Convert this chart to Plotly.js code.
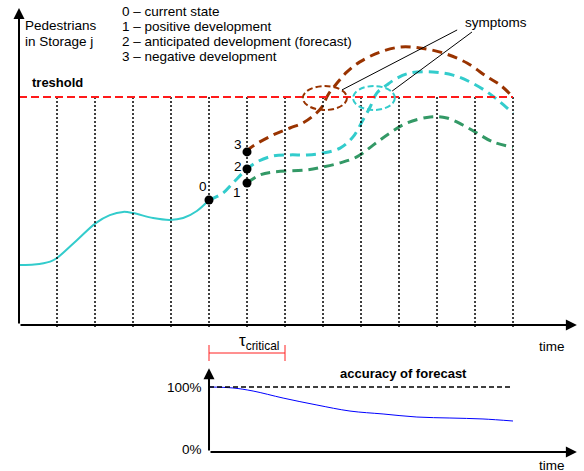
<!DOCTYPE html>
<html>
<head>
<meta charset="utf-8">
<script src="https://cdn.plot.ly/plotly-3.0.1.min.js"></script>
<style>html,body{margin:0;padding:0;background:#fff;}#chart{width:584px;height:471px;}</style>
</head>
<body>
<div id="chart"></div>
<script>
// ---- data (time in intervals, level where threshold = 100) ----
const historyT = [0, 0.4, 0.82, 1, 1.53, 2.02, 2.39, 2.74, 3, 3.53, 3.97, 4.32, 4.68, 5];
const historyL = [26.3, 26.5, 27.8, 29.4, 37.3, 44.7, 48.2, 49.6, 49.1, 46.9, 46.1, 46.9, 50, 54.8];

const forecastT = [5, 5.37, 5.63, 6, 6.26, 6.68, 7.13, 7.58, 8, 8.45, 8.79, 9.05, 9.24, 9.42, 9.68, 9.95, 10.29, 10.89, 11.42, 11.87, 12.32, 12.66, 13];
const forecastL = [54.8, 57.9, 62.3, 68.4, 71.5, 74.1, 74.6, 74.6, 75.4, 77.6, 82.5, 89.9, 95.6, 101.8, 105.3, 108.3, 110.5, 111, 109.6, 106.6, 102.2, 97.8, 92.9];

const negativeT = [6, 6.08, 6.68, 7.13, 7.47, 7.74, 7.97, 8.13, 8.37, 8.63, 8.97, 9.5, 10.03, 10.55, 11.16, 11.79, 12.32, 12.66, 13];
const negativeL = [75.9, 77.6, 83.3, 86.4, 88.6, 91.7, 95.6, 100.9, 106.1, 111, 115.4, 119.7, 121.9, 121.5, 119.3, 114.9, 108.8, 105.3, 100];

const positiveT = [6, 6.34, 6.68, 7.58, 8, 8.45, 8.89, 9.32, 9.76, 10.21, 10.82, 11.26, 11.68, 12.05, 12.47, 13];
const positiveL = [62.3, 65.8, 67.1, 68, 69.3, 71.1, 73.7, 78.9, 84.2, 88.6, 91.2, 90.8, 87.7, 84.2, 80.3, 78];

const stateT = [5, 6, 6, 6];
const stateL = [54.8, 62.3, 68.4, 75.9];
const stateLabels = ['0', '1', '2', '3'];

const threshold = 100;
const gridT = [1, 2, 3, 4, 5, 6, 7, 8, 9, 10, 11, 12, 13];

const accuracyT = [5, 5.63, 6.16, 6.95, 7.84, 8.71, 9.58, 10.47, 11.34, 12.21, 13];
const accuracyV = [100, 98.5, 93.8, 83, 72.3, 63, 58.5, 53.8, 52.3, 50.8, 47.7];

const legendLines = ['0 – current state', '1 – positive development', '2 – anticipated development (forecast)', '3 – negative development'];
const tauStart = 5, tauEnd = 7;

// ---- helpers ----
const W = 584, H = 471;
const P = (px, py) => ({x: px / W, y: 1 - py / H});
const FONT = 'Liberation Sans, Arial, sans-serif';
const BROWN = '#993300', CYAN = '#33cccc', GREEN = '#339966';
const FS = 13.5, FB = 13;

const traces = [
  {x: historyT, y: historyL, mode: 'lines', line: {color: CYAN, width: 2, shape: 'spline'}},
  {x: forecastT, y: forecastL, mode: 'lines', line: {color: CYAN, width: 3, dash: '10px,6px', shape: 'spline'}},
  {x: negativeT, y: negativeL, mode: 'lines', line: {color: BROWN, width: 3, dash: '10px,6px', shape: 'spline'}},
  {x: positiveT, y: positiveL, mode: 'lines', line: {color: GREEN, width: 3, dash: '10px,6px', shape: 'spline'}},
  {x: stateT, y: stateL, mode: 'markers', marker: {color: '#000', size: 9}},
  {x: accuracyT, y: accuracyV, yaxis: 'y2', mode: 'lines', line: {color: '#0000ff', width: 1, shape: 'spline'}}
];

const shapes = [];
gridT.forEach(t => shapes.push({type: 'line', xref: 'x', yref: 'y', x0: t, x1: t, y0: threshold, y1: -1,
  line: {color: '#000', width: 1.5, dash: '2px,2px'}}));
shapes.push({type: 'line', xref: 'x', yref: 'y', x0: 0, x1: 13, y0: threshold, y1: threshold,
  line: {color: '#ff1a1a', width: 2, dash: '8px,4px'}});
// symptom ellipses
shapes.push({type: 'circle', xref: 'x', yref: 'y', x0: 7.47, x1: 8.63, y0: 94.3, y1: 104.8,
  line: {color: BROWN, width: 2, dash: '6px,3px'}});
shapes.push({type: 'circle', xref: 'x', yref: 'y', x0: 8.79, x1: 9.89, y0: 94.3, y1: 104.8,
  line: {color: CYAN, width: 2, dash: '6px,3px'}});
// symptom pointer lines
shapes.push({type: 'line', xref: 'x', yref: 'y', x0: 8.5, y0: 103.1, x1: 11.53, y1: 129.4, line: {color: '#000', width: 1}});
shapes.push({type: 'line', xref: 'x', yref: 'y', x0: 9.82, y0: 102.6, x1: 11.92, y1: 128.5, line: {color: '#000', width: 1}});
// tau critical bracket
const by = P(0, 353).y, bt = P(0, 345).y, bb = P(0, 361).y;
shapes.push({type: 'line', xref: 'x', yref: 'paper', x0: tauStart, x1: tauEnd, y0: by, y1: by, line: {color: '#ff2020', width: 1}});
shapes.push({type: 'line', xref: 'x', yref: 'paper', x0: tauStart, x1: tauStart, y0: bt, y1: bb, line: {color: '#ff2020', width: 1}});
shapes.push({type: 'line', xref: 'x', yref: 'paper', x0: tauEnd, x1: tauEnd, y0: bt, y1: bb, line: {color: '#ff2020', width: 1}});
// 100% reference
shapes.push({type: 'line', xref: 'x', yref: 'y2', x0: 5, x1: 13, y0: 100, y1: 100, line: {color: '#000', width: 1.5, dash: '5px,3px'}});

const arrow = (x, y, ax, ay, yr) => ({x, y, ax, ay, xref: 'x', yref: yr, axref: 'x', ayref: yr, text: '',
  showarrow: true, arrowhead: 2, arrowsize: 1.1, arrowwidth: 2, arrowcolor: '#000', standoff: 0, startstandoff: 0});

const txt = (text, px, py, anchor, size, bold) => Object.assign(P(px, py), {xref: 'paper', yref: 'paper',
  text: bold ? '<b>' + text + '</b>' : text, showarrow: false, xanchor: anchor, yanchor: 'middle',
  font: {family: FONT, size: size, color: '#000'}});

const annotations = [
  arrow(0, 139, 0, 0, 'y'),
  arrow(14.68, 0, 0, 0, 'y'),
  arrow(5, 129, 5, 0, 'y2'),
  arrow(14.68, 0, 5, 0, 'y2'),
  txt('Pedestrians', 23, 26, 'left', FS),
  txt('in Storage j', 23, 42, 'left', FS),
  txt('treshold', 30, 83, 'left', FB, true),
  txt('symptoms', 463, 23, 'left', FS),
  txt('time', 552, 346, 'center', FS),
  txt('time', 552, 465, 'center', FS),
  txt('100%', 204, 387, 'right', FS),
  txt('0%', 204, 449, 'right', FS),
  txt('accuracy of forecast', 338, 373, 'left', FB, true),
  txt('τ<sub>critical</sub>', 259, 342, 'center', 17),
  txt('0', 203, 186, 'center', FS),
  txt('1', 237, 192, 'center', FS),
  txt('2', 238, 167, 'center', FS),
  txt('3', 238, 145, 'center', FS)
];
legendLines.forEach((s, i) => annotations.push(txt(s, 120, 12 + i * 15, 'left', FS)));

const layout = {
  width: W, height: H,
  margin: {l: 0, r: 0, t: 0, b: 0, pad: 0},
  paper_bgcolor: '#fff', plot_bgcolor: '#fff',
  showlegend: false,
  xaxis: {range: [-0.5, 14.868], visible: false, fixedrange: true},
  yaxis: {range: [-64.04, 142.54], visible: false, fixedrange: true},
  yaxis2: {range: [-29.23, 695.4], visible: false, overlaying: 'y', fixedrange: true},
  shapes: shapes,
  annotations: annotations,
  font: {family: FONT}
};

Plotly.newPlot('chart', traces, layout, {displayModeBar: false, staticPlot: true});
</script>
</body>
</html>
